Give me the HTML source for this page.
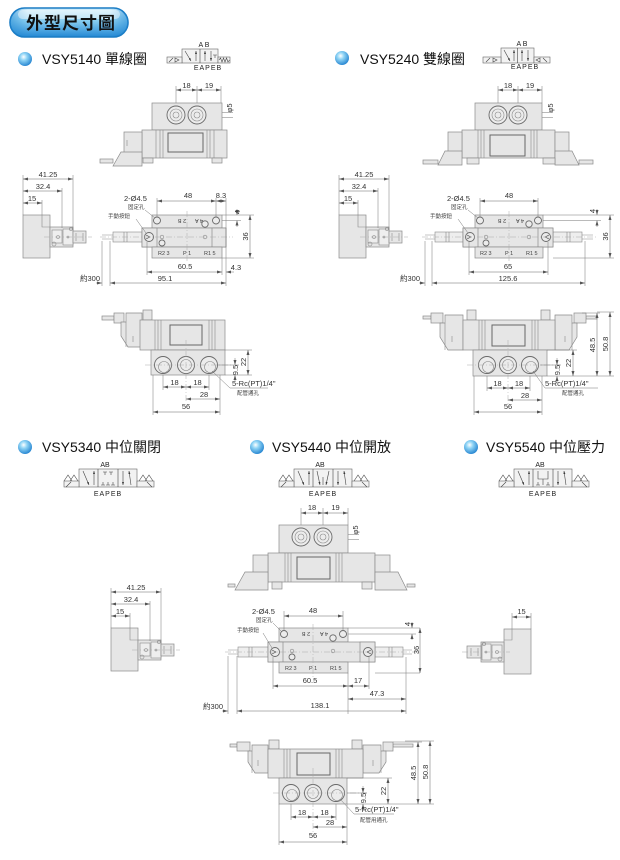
<!DOCTYPE html>
<html><head><meta charset="utf-8">
<style>
html,body{margin:0;padding:0;background:#fff;}
svg{display:block;}
text{font-family:"Liberation Sans","Noto Sans CJK TC",sans-serif;}
.p{fill:#e6e6e6;stroke:#8a8a8a;stroke-width:0.7;}
.q{fill:#eeeeee;stroke:#8a8a8a;stroke-width:0.6;}
.w{fill:#ececec;stroke:#6a6a6a;stroke-width:0.9;}
.l{fill:none;stroke:#8a8a8a;stroke-width:0.6;}
.d{fill:none;stroke:#777;stroke-width:0.5;}
.a{fill:none;stroke:#666;stroke-width:0.5;marker-start:url(#ms);marker-end:url(#me);}
.c{fill:none;stroke:#aaa;stroke-width:0.5;stroke-dasharray:6 2 1 2;}
.t{font-size:7.5px;fill:#333;}
.s{font-size:5.5px;fill:#444;}
.ti{font-size:14px;fill:#111;}
.sb{fill:#f2f2f2;stroke:#666;stroke-width:0.6;}
.sl{fill:none;stroke:#444;stroke-width:0.6;}
.sy{font-size:7px;fill:#222;}
</style></head><body>
<svg width="620" height="860" viewBox="0 0 620 860" xmlns="http://www.w3.org/2000/svg">
<defs>
<marker id="ms" viewBox="0 0 5 3" markerWidth="5" markerHeight="3" refX="0" refY="1.5" orient="auto" markerUnits="userSpaceOnUse"><path d="M0,1.5L5,0V3z" fill="#555"/></marker>
<marker id="me" viewBox="0 0 5 3" markerWidth="5" markerHeight="3" refX="5" refY="1.5" orient="auto" markerUnits="userSpaceOnUse"><path d="M5,1.5L0,0V3z" fill="#555"/></marker>
<marker id="sa" viewBox="0 0 3 2" markerWidth="3" markerHeight="2" refX="3" refY="1" orient="auto" markerUnits="userSpaceOnUse"><path d="M3,1L0,0V2z" fill="#333"/></marker>
<linearGradient id="hg" x1="0" y1="0" x2="0" y2="1">
<stop offset="0" stop-color="#d6f0fc"/><stop offset="0.45" stop-color="#86ccf0"/><stop offset="1" stop-color="#2388d4"/>
</linearGradient>
<linearGradient id="hg2" x1="0" y1="0" x2="1" y2="0">
<stop offset="0" stop-color="#1f86d2" stop-opacity="0.55"/><stop offset="0.15" stop-color="#1f86d2" stop-opacity="0"/><stop offset="0.85" stop-color="#1f86d2" stop-opacity="0"/><stop offset="1" stop-color="#1f86d2" stop-opacity="0.55"/>
</linearGradient>
<radialGradient id="bg" cx="0.4" cy="0.35" r="0.7">
<stop offset="0" stop-color="#ffffff"/><stop offset="0.35" stop-color="#8fd4f5"/><stop offset="1" stop-color="#1f80cf"/>
</radialGradient>
<g id="sv">
<rect class="p" x="23" y="215" width="27" height="43"/>
<path class="l" d="M42,215V227H50"/>
<rect class="p" x="50" y="227" width="23" height="20"/>
<rect class="q" x="52" y="230" width="10" height="13"/>
<circle class="l" cx="58" cy="237" r="1.5"/>
<rect class="q" x="63" y="229" width="10" height="16"/>
<circle class="l" cx="68" cy="237" r="1"/>
<rect class="p" x="73" y="231" width="13" height="12"/>
<path class="l" d="M76,233V241 M83,233V241"/>
<circle class="l" cx="54" cy="244" r="2"/>
<circle class="l" cx="71" cy="229" r="1.6"/>
<path class="c" d="M44,237H92"/>
</g>
</defs>

<!-- HEADER -->
<rect x="10" y="8" width="118" height="29" rx="14.5" fill="url(#hg)" stroke="#1a7cc4" stroke-width="1.6"/>
<rect x="10" y="8" width="118" height="29" rx="14.5" fill="url(#hg2)"/>
<rect x="18" y="10" width="102" height="9" rx="4.5" fill="#fff" opacity="0.45"/>
<text x="26" y="29" font-size="17" font-weight="bold" fill="#111" letter-spacing="1">外型尺寸圖</text>

<!-- ================= SECTION 1 : VSY5140 ================= -->
<circle cx="25" cy="59" r="7" fill="url(#bg)"/>
<text class="ti" x="42" y="64">VSY5140 單線圈</text>

<!-- symbol -->
<rect class="sb" x="182" y="49" width="36" height="14"/>
<path class="sl" d="M200,49V63"/>
<line class="sl" x1="185" y1="51" x2="191" y2="61" marker-end="url(#sa)"/>
<line class="sl" x1="196" y1="61" x2="196" y2="51" marker-end="url(#sa)"/>
<line class="sl" x1="205" y1="61" x2="205" y2="51" marker-end="url(#sa)"/>
<line class="sl" x1="211" y1="51" x2="211" y2="61" marker-end="url(#sa)"/>
<path class="sl" d="M213,55H217 M215,55V58"/>
<rect class="sb" x="167" y="57" width="15" height="6"/>
<path class="sl" d="M169,62L173,58 M175,58L179,60L175,62z"/>
<rect class="sb" x="218" y="57" width="12" height="6"/>
<path class="sl" d="M219,60l1.5,-2 1.5,4 1.5,-4 1.5,4 1.5,-4 1.5,4 1.5,-2"/>
<text class="sy" x="204" y="47" text-anchor="middle">A B</text>
<text class="sy" x="208" y="70" text-anchor="middle" letter-spacing="1">EAPEB</text>

<!-- top view 5140 -->
<path class="d" d="M176,86V106 M197,86V106 M221,86V103"/>
<line class="a" x1="176" y1="90" x2="197" y2="90"/>
<line class="a" x1="197" y1="90" x2="221" y2="90"/>
<text class="t" x="186.5" y="88" text-anchor="middle">18</text>
<text class="t" x="209" y="88" text-anchor="middle">19</text>
<path class="d" d="M222,112.5H233 M222,117.5H233"/>
<text class="t" font-size="6" transform="translate(232,108) rotate(-90)" text-anchor="middle">φ5</text>
<rect class="p" x="152" y="103" width="70" height="27"/>
<circle class="w" cx="176" cy="115" r="9"/><circle class="l" cx="176" cy="115" r="6"/><circle class="l" cx="176" cy="115" r="3"/>
<circle class="w" cx="197" cy="115" r="9"/><circle class="l" cx="197" cy="115" r="6"/><circle class="l" cx="197" cy="115" r="3"/>
<rect class="p" x="142" y="130" width="85" height="28"/>
<path class="l" d="M156,130V158 M160,130V158 M163,130V158 M207,130V158 M210,130V158 M214,130V158"/>
<rect x="168" y="133" width="35" height="19" fill="#e6e6e6" stroke="#666" stroke-width="1"/>
<rect class="p" x="124" y="132" width="18" height="26"/>
<path class="l" d="M127,140V146"/>
<polygon class="p" points="113,166 121,152 142,152 142,166"/>
<rect class="p" x="100" y="159" width="13" height="4"/>
<rect class="p" x="143" y="158" width="10" height="5"/>
<rect class="p" x="212" y="158" width="10" height="5"/>

<!-- side view 5140 -->
<use href="#sv"/>
<path class="d" d="M23,175V215 M73,175V230 M62,188V228 M42,200V215"/>
<line class="a" x1="23" y1="179" x2="73" y2="179"/>
<text class="t" x="48" y="177" text-anchor="middle">41.25</text>
<line class="a" x1="23" y1="191" x2="62" y2="191"/>
<text class="t" x="43" y="189" text-anchor="middle">32.4</text>
<line class="a" x1="23" y1="203" x2="42" y2="203"/>
<text class="t" x="32" y="201" text-anchor="middle">15</text>

<!-- front view 5140 -->
<rect class="q" x="113" y="232" width="29" height="10"/>
<path class="l" d="M102,235H113 M102,239H113 M124,232V242 M127,232V242"/>
<rect class="p" x="152" y="215" width="70" height="13"/>
<circle class="w" cx="157" cy="220.5" r="3.5"/>
<circle class="w" cx="216" cy="220.5" r="3.5"/>
<text class="s" font-size="4.5" transform="translate(182,219) rotate(180)" text-anchor="middle">2 B</text>
<text class="s" font-size="4.5" transform="translate(199,219) rotate(180)" text-anchor="middle">4 A</text>
<rect class="p" x="142" y="228" width="84" height="19"/>
<rect class="p" x="142" y="228" width="15" height="19"/>
<circle class="w" cx="149" cy="237" r="4.5"/>
<path class="sl" d="M146,235l4,2l-4,2"/>
<rect class="p" x="212" y="228" width="14" height="19"/>
<rect class="p" x="152" y="247" width="70" height="11"/>
<text class="s" font-size="5" x="158" y="255">R2 3</text>
<text class="s" font-size="5" x="183" y="255">P 1</text>
<text class="s" font-size="5" x="204" y="255">R1 5</text>
<circle class="w" cx="205" cy="224" r="3.2"/>
<circle class="l" cx="162" cy="237" r="1.8"/>
<circle class="w" cx="162" cy="243" r="3"/>
<circle class="l" cx="205" cy="237" r="1.8"/>
<path class="c" d="M100,237H233 M187,211V262"/>
<!-- dims -->
<path class="d" d="M157,198V217 M216,198V217 M226,198V286"/>
<line class="a" x1="157" y1="201" x2="216" y2="201"/>
<text class="t" x="188" y="198" text-anchor="middle">48</text>
<line class="a" x1="216" y1="201" x2="226" y2="201"/>
<text class="t" x="221" y="198" text-anchor="middle">8.3</text>
<text class="t" x="124" y="201">2-Ø4.5</text>
<text class="s" x="128" y="209">固定孔</text>
<path class="d" d="M145,210L155,218"/>
<text class="s" x="108" y="218">手動按鈕</text>
<path class="d" d="M136,219L146,233"/>
<path class="d" d="M222,215H254 M222,220.5H241 M222,258H254"/>
<line class="d" x1="237" y1="209" x2="237" y2="215" marker-end="url(#me)"/>
<line class="d" x1="237" y1="227" x2="237" y2="220.5" marker-end="url(#me)"/>
<text class="t" font-size="6" transform="translate(240,212) rotate(-90)" text-anchor="middle">4</text>
<line class="a" x1="250" y1="215" x2="250" y2="258"/>
<text class="t" transform="translate(248,236.5) rotate(-90)" text-anchor="middle">36</text>
<path class="d" d="M147,242V275 M222,258V275 M102,241V286 M110,241V286"/>
<line class="a" x1="147" y1="272" x2="222" y2="272"/>
<text class="t" x="185" y="269" text-anchor="middle">60.5</text>
<line class="d" x1="234" y1="272" x2="226" y2="272" marker-end="url(#me)"/>
<text class="t" x="236" y="270" text-anchor="middle">4.3</text>
<text class="t" x="80" y="281">約300</text>
<line class="d" x1="96" y1="283" x2="102" y2="283" marker-end="url(#me)"/>
<line class="a" x1="110" y1="283" x2="226" y2="283"/>
<text class="t" x="165" y="281" text-anchor="middle">95.1</text>

<!-- bottom view 5140 -->
<rect class="p" x="102" y="316" width="12" height="4"/>
<rect class="p" x="114" y="313" width="10" height="10"/>
<polygon class="p" points="126,313 142,313 142,347 128,347 121,336 121,322 126,322"/>
<path class="l" d="M126,322V347 M133,336V342"/>
<rect class="p" x="143" y="310" width="9" height="10"/>
<rect class="p" x="140" y="320" width="85" height="30"/>
<path class="l" d="M155,320V350 M158,320V350 M161,320V350 M209,320V350 M212,320V350 M215,320V350"/>
<rect x="170" y="325" width="32" height="20" fill="#e6e6e6" stroke="#666" stroke-width="1"/>
<rect class="p" x="151" y="350" width="74" height="25"/>
<circle class="w" cx="163" cy="365" r="8.5"/><circle class="l" cx="164" cy="367" r="5.5"/>
<circle class="w" cx="186" cy="365" r="8.5"/><circle class="l" cx="186" cy="365" r="5.5"/>
<circle class="w" cx="209" cy="365" r="8.5"/><circle class="l" cx="210" cy="367" r="5.5"/>
<path class="c" d="M145,365H232 M186,340V402"/>
<path class="d" d="M225,350H252 M225,375H252 M218,365H239"/>
<line class="a" x1="248" y1="350" x2="248" y2="375"/>
<text class="t" transform="translate(246,362) rotate(-90)" text-anchor="middle">22</text>
<line class="d" x1="235" y1="358" x2="235" y2="365" marker-end="url(#me)"/>
<line class="d" x1="235" y1="382" x2="235" y2="375" marker-end="url(#me)"/>
<text class="t" transform="translate(238,370) rotate(-90)" text-anchor="middle">9.5</text>
<path class="d" d="M163,375V390 M209,375V390 M153,375V415 M220,375V415"/>
<line class="a" x1="163" y1="387" x2="186" y2="387"/>
<line class="a" x1="186" y1="387" x2="209" y2="387"/>
<text class="t" x="174.5" y="385" text-anchor="middle">18</text>
<text class="t" x="197.5" y="385" text-anchor="middle">18</text>
<line class="a" x1="186" y1="399" x2="220" y2="399"/>
<text class="t" x="204" y="397" text-anchor="middle">28</text>
<line class="a" x1="153" y1="412" x2="220" y2="412"/>
<text class="t" x="186" y="409" text-anchor="middle">56</text>
<path class="d" d="M212,371L230,388H268"/>
<text class="t" x="232" y="386">5-Rc(PT)1/4"</text>
<text class="s" x="237" y="395">配管通孔</text>

<!-- ================= SECTION 2 : VSY5240 ================= -->
<circle cx="342" cy="58" r="7" fill="url(#bg)"/>
<text class="ti" x="360" y="64">VSY5240 雙線圈</text>

<rect class="sb" x="501" y="48" width="33" height="15"/>
<path class="sl" d="M517.5,48V63"/>
<line class="sl" x1="504" y1="50" x2="510" y2="61" marker-end="url(#sa)"/>
<line class="sl" x1="514" y1="61" x2="514" y2="50" marker-end="url(#sa)"/>
<line class="sl" x1="522" y1="61" x2="522" y2="50" marker-end="url(#sa)"/>
<line class="sl" x1="528" y1="50" x2="528" y2="61" marker-end="url(#sa)"/>
<rect class="sb" x="483" y="57" width="18" height="6"/>
<path class="sl" d="M486,62L490,58 M493,58L497,60L493,62z"/>
<rect class="sb" x="534" y="57" width="16" height="6"/>
<path class="sl" d="M547,62L543,58 M540,58L536,60L540,62z"/>
<text class="sy" x="522" y="46" text-anchor="middle">A B</text>
<text class="sy" x="525" y="69" text-anchor="middle" letter-spacing="1">EAPEB</text>

<!-- top view 5240 -->
<path class="d" d="M498,86V106 M518,86V106 M542,86V103"/>
<line class="a" x1="498" y1="90" x2="518" y2="90"/>
<line class="a" x1="518" y1="90" x2="542" y2="90"/>
<text class="t" x="508" y="88" text-anchor="middle">18</text>
<text class="t" x="530" y="88" text-anchor="middle">19</text>
<path class="d" d="M542,112.5H553 M542,117.5H553"/>
<text class="t" font-size="6" transform="translate(553,108) rotate(-90)" text-anchor="middle">φ5</text>
<rect class="p" x="475" y="103" width="67" height="27"/>
<circle class="w" cx="498" cy="115" r="9"/><circle class="l" cx="498" cy="115" r="6"/><circle class="l" cx="498" cy="115" r="3"/>
<circle class="w" cx="518" cy="115" r="9"/><circle class="l" cx="518" cy="115" r="6"/><circle class="l" cx="518" cy="115" r="3"/>
<rect class="p" x="462" y="130" width="93" height="28"/>
<path class="l" d="M478,130V158 M481,130V158 M484,130V158 M531,130V158 M534,130V158 M537,130V158"/>
<rect x="490" y="135" width="35" height="21" fill="#e6e6e6" stroke="#666" stroke-width="1"/>
<rect class="p" x="448" y="132" width="14" height="26"/>
<polygon class="p" points="438,165 445,151 462,151 462,165"/>
<rect class="p" x="423" y="160" width="15" height="4"/>
<rect class="p" x="555" y="132" width="14" height="26"/>
<polygon class="p" points="555,151 572,151 579,165 555,165"/>
<rect class="p" x="579" y="160" width="14" height="4"/>
<rect class="p" x="467" y="158" width="12" height="6"/>
<rect class="p" x="543" y="158" width="12" height="6"/>

<!-- side view 5240 -->
<use href="#sv" x="316"/>
<path class="d" d="M339,175V215 M389,175V230 M378,188V228 M358,200V215"/>
<line class="a" x1="339" y1="179" x2="389" y2="179"/>
<text class="t" x="364" y="177" text-anchor="middle">41.25</text>
<line class="a" x1="339" y1="191" x2="378" y2="191"/>
<text class="t" x="359" y="189" text-anchor="middle">32.4</text>
<line class="a" x1="339" y1="203" x2="358" y2="203"/>
<text class="t" x="348" y="201" text-anchor="middle">15</text>

<!-- front view 5240 -->
<rect class="q" x="435" y="232" width="28" height="10"/>
<path class="l" d="M425,235H435 M425,239H435 M446,232V242 M449,232V242"/>
<rect class="q" x="553" y="232" width="29" height="10"/>
<path class="l" d="M582,235H593 M582,239H593 M570,232V242 M567,232V242"/>
<rect class="p" x="475" y="215" width="68" height="13"/>
<circle class="w" cx="480" cy="220.5" r="3.5"/>
<circle class="w" cx="538" cy="220.5" r="3.5"/>
<text class="s" font-size="4.5" transform="translate(502,219) rotate(180)" text-anchor="middle">2 B</text>
<text class="s" font-size="4.5" transform="translate(520,219) rotate(180)" text-anchor="middle">4 A</text>
<rect class="p" x="463" y="228" width="90" height="19"/>
<rect class="p" x="463" y="228" width="15" height="19"/>
<circle class="w" cx="470" cy="237" r="4.5"/>
<path class="sl" d="M467,235l4,2l-4,2"/>
<rect class="p" x="538" y="228" width="15" height="19"/>
<circle class="w" cx="546" cy="237" r="4.5"/>
<path class="sl" d="M549,235l-4,2l4,2"/>
<rect class="p" x="475" y="247" width="68" height="11"/>
<text class="s" font-size="5" x="480" y="255">R2 3</text>
<text class="s" font-size="5" x="505" y="255">P 1</text>
<text class="s" font-size="5" x="526" y="255">R1 5</text>
<circle class="w" cx="529" cy="224" r="3.2"/>
<circle class="l" cx="486" cy="237" r="1.8"/>
<circle class="w" cx="486" cy="243" r="3"/>
<circle class="l" cx="529" cy="237" r="1.8"/>
<path class="c" d="M422,237H598 M509,211V262"/>
<path class="d" d="M480,198V217 M538,198V217"/>
<line class="a" x1="480" y1="201" x2="538" y2="201"/>
<text class="t" x="509" y="198" text-anchor="middle">48</text>
<text class="t" x="447" y="201">2-Ø4.5</text>
<text class="s" x="451" y="209">固定孔</text>
<path class="d" d="M468,210L478,218"/>
<text class="s" x="430" y="218">手動按鈕</text>
<path class="d" d="M458,219L468,233"/>
<path class="d" d="M543,215H614 M543,220.5H601 M553,258H614"/>
<line class="d" x1="597" y1="209" x2="597" y2="215" marker-end="url(#me)"/>
<line class="d" x1="597" y1="227" x2="597" y2="220.5" marker-end="url(#me)"/>
<text class="t" font-size="6" transform="translate(595,211) rotate(-90)" text-anchor="middle">4</text>
<line class="a" x1="610" y1="215" x2="610" y2="258"/>
<text class="t" transform="translate(608,236.5) rotate(-90)" text-anchor="middle">36</text>
<path class="d" d="M469,242V275 M548,242V275 M425,241V286 M432,241V286 M585,241V286"/>
<line class="a" x1="469" y1="272" x2="548" y2="272"/>
<text class="t" x="508" y="269" text-anchor="middle">65</text>
<text class="t" x="400" y="281">約300</text>
<line class="d" x1="419" y1="283" x2="425" y2="283" marker-end="url(#me)"/>
<line class="a" x1="432" y1="283" x2="585" y2="283"/>
<text class="t" x="508" y="281" text-anchor="middle">125.6</text>

<!-- bottom view 5240 -->
<rect class="p" x="423" y="316" width="8" height="3"/>
<rect class="p" x="431" y="313" width="12" height="10"/>
<polygon class="p" points="445,315 463,315 463,350 448,350 440,337 440,323 445,323"/>
<path class="l" d="M445,323V350 M452,336V342"/>
<rect class="p" x="467" y="310" width="9" height="10"/>
<rect class="p" x="586" y="316" width="11" height="3"/>
<rect class="p" x="574" y="313" width="12" height="10"/>
<polygon class="p" points="555,315 572,315 572,323 577,323 577,337 569,350 555,350"/>
<path class="l" d="M572,323V350 M565,336V342"/>
<rect class="p" x="541" y="310" width="9" height="10"/>
<rect class="p" x="463" y="320" width="92" height="30"/>
<path class="l" d="M479,320V350 M482,320V350 M485,320V350 M532,320V350 M535,320V350 M538,320V350"/>
<rect x="492" y="325" width="33" height="21" fill="#e6e6e6" stroke="#666" stroke-width="1"/>
<rect class="p" x="473" y="350" width="74" height="26"/>
<circle class="w" cx="487" cy="365" r="8.5"/><circle class="l" cx="488" cy="367" r="5.5"/>
<circle class="w" cx="508" cy="365" r="8.5"/><circle class="l" cx="508" cy="365" r="5.5"/>
<circle class="w" cx="530" cy="365" r="8.5"/><circle class="l" cx="531" cy="367" r="5.5"/>
<path class="c" d="M467,365H560 M508,340V404"/>
<path class="d" d="M547,350H577 M547,376H614 M540,365H561 M582,313H600 M597,312H614"/>
<line class="a" x1="573" y1="350" x2="573" y2="376"/>
<text class="t" transform="translate(571,363) rotate(-90)" text-anchor="middle">22</text>
<line class="d" x1="557" y1="358" x2="557" y2="365" marker-end="url(#me)"/>
<line class="d" x1="557" y1="383" x2="557" y2="376" marker-end="url(#me)"/>
<text class="t" transform="translate(560,370) rotate(-90)" text-anchor="middle">9.5</text>
<line class="a" x1="597" y1="313" x2="597" y2="376"/>
<text class="t" transform="translate(595,345) rotate(-90)" text-anchor="middle">48.5</text>
<line class="a" x1="610" y1="312" x2="610" y2="376"/>
<text class="t" transform="translate(608,344) rotate(-90)" text-anchor="middle">50.8</text>
<path class="d" d="M487,376V391 M530,376V391 M474,376V415 M542,376V415"/>
<line class="a" x1="487" y1="388" x2="508" y2="388"/>
<line class="a" x1="508" y1="388" x2="530" y2="388"/>
<text class="t" x="497.5" y="386" text-anchor="middle">18</text>
<text class="t" x="519" y="386" text-anchor="middle">18</text>
<line class="a" x1="508" y1="400" x2="542" y2="400"/>
<text class="t" x="525" y="398" text-anchor="middle">28</text>
<line class="a" x1="474" y1="412" x2="542" y2="412"/>
<text class="t" x="508" y="409" text-anchor="middle">56</text>
<path class="d" d="M533,371L545,388H598"/>
<text class="t" x="545" y="386">5-Rc(PT)1/4"</text>
<text class="s" x="562" y="395">配管通孔</text>

<!-- ================= SECTION 3 ================= -->
<circle cx="25" cy="447" r="7" fill="url(#bg)"/>
<text class="ti" x="42" y="452">VSY5340 中位關閉</text>
<circle cx="257" cy="447" r="7" fill="url(#bg)"/>
<text class="ti" x="272" y="452">VSY5440 中位開放</text>
<circle cx="471" cy="447" r="7" fill="url(#bg)"/>
<text class="ti" x="486" y="452">VSY5540 中位壓力</text>

<!-- symbol 5340 -->
<g>
<rect class="sb" x="79" y="469" width="58" height="18"/>
<path class="sl" d="M98,469V487 M118,469V487"/>
<line class="sl" x1="83" y1="471" x2="89" y2="485" marker-end="url(#sa)"/>
<line class="sl" x1="94" y1="485" x2="94" y2="471" marker-end="url(#sa)"/>
<path class="sl" d="M103,472H107 M105,472V475 M109,472H113 M111,472V475 M101,485H105 M103,485V482 M106,485H110 M108,485V482 M111,485H115 M113,485V482"/>
<line class="sl" x1="123" y1="471" x2="123" y2="485" marker-end="url(#sa)"/>
<line class="sl" x1="131" y1="485" x2="129" y2="471" marker-end="url(#sa)"/>
<rect class="sb" x="64" y="481" width="15" height="6"/>
<path class="sl" d="M64,481L68,475L72,481 M70,481L74,475L78,481 M66,487L71,482"/>
<rect class="sb" x="137" y="481" width="17" height="6"/>
<path class="sl" d="M139,481L143,475L147,481 M145,481L149,475L153,481 M152,487L147,482"/>
<text class="sy" x="105" y="467" text-anchor="middle">AB</text>
<text class="sy" x="108" y="496" text-anchor="middle" letter-spacing="1">EAPEB</text>
</g>
<!-- symbol 5440 -->
<g transform="translate(215,0)">
<rect class="sb" x="79" y="469" width="58" height="18"/>
<path class="sl" d="M98,469V487 M118,469V487"/>
<line class="sl" x1="83" y1="471" x2="89" y2="485" marker-end="url(#sa)"/>
<line class="sl" x1="94" y1="485" x2="94" y2="471" marker-end="url(#sa)"/>
<line class="sl" x1="102" y1="471" x2="105" y2="485" marker-end="url(#sa)"/>
<line class="sl" x1="108" y1="485" x2="108" y2="477"/>
<line class="sl" x1="114" y1="471" x2="111" y2="485" marker-end="url(#sa)"/>
<line class="sl" x1="123" y1="471" x2="123" y2="485" marker-end="url(#sa)"/>
<line class="sl" x1="131" y1="485" x2="129" y2="471" marker-end="url(#sa)"/>
<rect class="sb" x="64" y="481" width="15" height="6"/>
<path class="sl" d="M64,481L68,475L72,481 M70,481L74,475L78,481 M66,487L71,482"/>
<rect class="sb" x="137" y="481" width="17" height="6"/>
<path class="sl" d="M139,481L143,475L147,481 M145,481L149,475L153,481 M152,487L147,482"/>
<text class="sy" x="105" y="467" text-anchor="middle">AB</text>
<text class="sy" x="108" y="496" text-anchor="middle" letter-spacing="1">EAPEB</text>
</g>
<!-- symbol 5540 -->
<g transform="translate(435,0)">
<rect class="sb" x="79" y="469" width="58" height="18"/>
<path class="sl" d="M98,469V487 M118,469V487"/>
<line class="sl" x1="83" y1="471" x2="89" y2="485" marker-end="url(#sa)"/>
<line class="sl" x1="94" y1="485" x2="94" y2="471" marker-end="url(#sa)"/>
<path class="sl" d="M108,485V479H103V471 M108,479H113V471"/>
<path class="sl" d="M101,485H105 M103,485V482 M111,485H115 M113,485V482"/>
<line class="sl" x1="123" y1="471" x2="123" y2="485" marker-end="url(#sa)"/>
<line class="sl" x1="131" y1="485" x2="129" y2="471" marker-end="url(#sa)"/>
<rect class="sb" x="64" y="481" width="15" height="6"/>
<path class="sl" d="M64,481L68,475L72,481 M70,481L74,475L78,481 M66,487L71,482"/>
<rect class="sb" x="137" y="481" width="17" height="6"/>
<path class="sl" d="M139,481L143,475L147,481 M145,481L149,475L153,481 M152,487L147,482"/>
<text class="sy" x="105" y="467" text-anchor="middle">AB</text>
<text class="sy" x="108" y="496" text-anchor="middle" letter-spacing="1">EAPEB</text>
</g>

<!-- top view section 3 -->
<path class="d" d="M301,508V528 M323,508V528 M348,508V525"/>
<line class="a" x1="301" y1="513" x2="323" y2="513"/>
<line class="a" x1="323" y1="513" x2="348" y2="513"/>
<text class="t" x="312" y="510" text-anchor="middle">18</text>
<text class="t" x="335.5" y="510" text-anchor="middle">19</text>
<path class="d" d="M348,534.5H359 M348,539.5H359"/>
<text class="t" font-size="6" transform="translate(358,530) rotate(-90)" text-anchor="middle">φ5</text>
<rect class="p" x="279" y="525" width="69" height="28"/>
<circle class="w" cx="301" cy="537" r="9"/><circle class="l" cx="301" cy="537" r="6"/><circle class="l" cx="301" cy="537" r="3"/>
<circle class="w" cx="323" cy="537" r="9"/><circle class="l" cx="323" cy="537" r="6"/><circle class="l" cx="323" cy="537" r="3"/>
<rect class="p" x="268" y="553" width="107" height="29"/>
<path class="l" d="M285,553V582 M288,553V582 M291,553V582 M336,553V582 M339,553V582 M342,553V582"/>
<rect x="297" y="557" width="33" height="22" fill="#e6e6e6" stroke="#666" stroke-width="1"/>
<rect class="p" x="253" y="555" width="15" height="28"/>
<polygon class="p" points="235,590 245,572 268,572 268,590"/>
<rect class="p" x="228" y="584" width="7" height="3"/>
<rect class="p" x="375" y="555" width="15" height="28"/>
<polygon class="p" points="375,572 398,572 407,590 375,590"/>
<rect class="p" x="407" y="584" width="8" height="3"/>
<rect class="p" x="272" y="582" width="10" height="7"/>
<rect class="p" x="362" y="582" width="10" height="7"/>

<!-- side view left section 3 -->
<use href="#sv" x="88" y="413"/>
<path class="d" d="M111,588V628 M161,588V643 M150,601V641 M130,613V628"/>
<line class="a" x1="111" y1="592" x2="161" y2="592"/>
<text class="t" x="136" y="590" text-anchor="middle">41.25</text>
<line class="a" x1="111" y1="604" x2="150" y2="604"/>
<text class="t" x="131" y="602" text-anchor="middle">32.4</text>
<line class="a" x1="111" y1="616" x2="130" y2="616"/>
<text class="t" x="120" y="614" text-anchor="middle">15</text>

<!-- side view right section 3 -->
<rect class="p" x="504" y="629" width="27" height="45"/>
<path class="l" d="M512,629V640H504"/>
<rect class="p" x="481" y="642" width="23" height="20"/>
<rect class="q" x="492" y="645" width="10" height="13"/>
<circle class="l" cx="497" cy="652" r="1.5"/>
<rect class="q" x="482" y="644" width="9" height="16"/>
<circle class="l" cx="486" cy="652" r="1"/>
<rect class="p" x="467" y="646" width="14" height="12"/>
<path class="l" d="M471,648V656 M478,648V656"/>
<circle class="l" cx="500" cy="659" r="2"/>
<circle class="l" cx="484" cy="644" r="1.6"/>
<path class="c" d="M462,652H510"/>
<path class="d" d="M512,613V629 M531,613V629"/>
<line class="a" x1="512" y1="617" x2="531" y2="617"/>
<text class="t" x="521.5" y="614" text-anchor="middle">15</text>

<!-- front view section 3 -->
<rect class="q" x="238" y="647" width="30" height="10"/>
<path class="l" d="M228,650H238 M228,654H238 M249,647V657 M252,647V657"/>
<rect class="q" x="375" y="647" width="28" height="10"/>
<path class="l" d="M403,650H412 M403,654H412 M392,647V657 M389,647V657"/>
<rect class="p" x="279" y="628" width="69" height="14"/>
<circle class="w" cx="284" cy="634" r="3.5"/>
<circle class="w" cx="343" cy="634" r="3.5"/>
<text class="s" font-size="4.5" transform="translate(306,632) rotate(180)" text-anchor="middle">2 B</text>
<text class="s" font-size="4.5" transform="translate(324,632) rotate(180)" text-anchor="middle">4 A</text>
<rect class="p" x="268" y="642" width="107" height="20"/>
<rect class="p" x="268" y="642" width="15" height="20"/>
<circle class="w" cx="275" cy="652" r="4.5"/>
<path class="sl" d="M272,650l4,2l-4,2"/>
<rect class="p" x="360" y="642" width="15" height="20"/>
<circle class="w" cx="368" cy="652" r="4.5"/>
<path class="sl" d="M371,650l-4,2l4,2"/>
<rect class="p" x="279" y="662" width="69" height="11"/>
<text class="s" font-size="5" x="285" y="670">R2 3</text>
<text class="s" font-size="5" x="309" y="670">P 1</text>
<text class="s" font-size="5" x="330" y="670">R1 5</text>
<circle class="w" cx="333" cy="638" r="3.2"/>
<circle class="l" cx="292" cy="651" r="1.8"/>
<circle class="w" cx="292" cy="657" r="3"/>
<circle class="l" cx="333" cy="651" r="1.8"/>
<path class="c" d="M225,652H420 M313,624V678"/>
<path class="d" d="M284,611V631 M343,611V631"/>
<line class="a" x1="284" y1="616" x2="343" y2="616"/>
<text class="t" x="313" y="613" text-anchor="middle">48</text>
<text class="t" x="252" y="614">2-Ø4.5</text>
<text class="s" x="256" y="622">固定孔</text>
<path class="d" d="M273,623L282,632"/>
<text class="s" x="237" y="632">手動按鈕</text>
<path class="d" d="M263,633L272,648"/>
<path class="d" d="M348,628H420 M348,634H416 M375,673H420"/>
<line class="d" x1="412" y1="622" x2="412" y2="628" marker-end="url(#me)"/>
<line class="d" x1="412" y1="640" x2="412" y2="634" marker-end="url(#me)"/>
<text class="t" font-size="6" transform="translate(410,624) rotate(-90)" text-anchor="middle">4</text>
<line class="a" x1="420" y1="628" x2="420" y2="673"/>
<text class="t" transform="translate(419,650) rotate(-90)" text-anchor="middle">36</text>
<path class="d" d="M273,657V689 M348,673V714 M369,657V689 M406,657V714 M228,656V714 M237,656V714"/>
<line class="a" x1="273" y1="686" x2="348" y2="686"/>
<text class="t" x="310" y="683" text-anchor="middle">60.5</text>
<line class="a" x1="348" y1="686" x2="369" y2="686"/>
<text class="t" x="358" y="683" text-anchor="middle">17</text>
<line class="a" x1="348" y1="699" x2="406" y2="699"/>
<text class="t" x="377" y="696" text-anchor="middle">47.3</text>
<text class="t" x="203" y="709">約300</text>
<line class="d" x1="222" y1="711" x2="228" y2="711" marker-end="url(#me)"/>
<line class="a" x1="237" y1="711" x2="406" y2="711"/>
<text class="t" x="320" y="708" text-anchor="middle">138.1</text>

<!-- bottom view section 3 -->
<rect class="p" x="230" y="744" width="7" height="3"/>
<rect class="p" x="237" y="742" width="13" height="9"/>
<polygon class="p" points="252,745 268,745 268,773 255,773 248,762 248,751 252,751"/>
<path class="l" d="M252,751V773 M258,760V766"/>
<rect class="p" x="269" y="740" width="10" height="9"/>
<rect class="p" x="393" y="744" width="20" height="3"/>
<rect class="p" x="383" y="742" width="10" height="9"/>
<polygon class="p" points="363,745 381,745 381,751 386,751 386,762 379,773 363,773"/>
<path class="l" d="M381,751V773 M373,760V766"/>
<rect class="p" x="352" y="740" width="10" height="9"/>
<rect class="p" x="268" y="749" width="95" height="29"/>
<path class="l" d="M284,749V778 M287,749V778 M290,749V778 M336,749V778 M339,749V778 M342,749V778"/>
<rect x="297" y="753" width="33" height="22" fill="#e6e6e6" stroke="#666" stroke-width="1"/>
<rect class="p" x="279" y="778" width="68" height="26"/>
<circle class="w" cx="291" cy="793" r="8.5"/><circle class="l" cx="292" cy="795" r="5.5"/>
<circle class="w" cx="313" cy="793" r="8.5"/><circle class="l" cx="313" cy="793" r="5.5"/>
<circle class="w" cx="336" cy="793" r="8.5"/><circle class="l" cx="337" cy="795" r="5.5"/>
<path class="c" d="M273,793H368 M313,768V832"/>
<path class="d" d="M347,778H392 M347,804H434 M347,793H367 M393,742H422 M405,741H434"/>
<line class="d" x1="363" y1="786" x2="363" y2="793" marker-end="url(#me)"/>
<line class="d" x1="363" y1="811" x2="363" y2="804" marker-end="url(#me)"/>
<text class="t" transform="translate(366,798) rotate(-90)" text-anchor="middle">9.5</text>
<line class="a" x1="388" y1="778" x2="388" y2="804"/>
<text class="t" transform="translate(386,791) rotate(-90)" text-anchor="middle">22</text>
<line class="a" x1="418" y1="742" x2="418" y2="804"/>
<text class="t" transform="translate(416,773) rotate(-90)" text-anchor="middle">48.5</text>
<line class="a" x1="430" y1="741" x2="430" y2="804"/>
<text class="t" transform="translate(428,772) rotate(-90)" text-anchor="middle">50.8</text>
<path class="d" d="M291,804V820 M336,804V820 M279,804V845 M347,804V845"/>
<line class="a" x1="291" y1="817" x2="313" y2="817"/>
<line class="a" x1="313" y1="817" x2="336" y2="817"/>
<text class="t" x="302" y="815" text-anchor="middle">18</text>
<text class="t" x="324.5" y="815" text-anchor="middle">18</text>
<line class="a" x1="313" y1="827" x2="347" y2="827"/>
<text class="t" x="330" y="825" text-anchor="middle">28</text>
<line class="a" x1="279" y1="842" x2="347" y2="842"/>
<text class="t" x="313" y="838" text-anchor="middle">56</text>
<path class="d" d="M340,799L354,814H394"/>
<text class="t" x="355" y="812">5-Rc(PT)1/4"</text>
<text class="s" x="360" y="822">配管用通孔</text>

</svg>
</body></html>
